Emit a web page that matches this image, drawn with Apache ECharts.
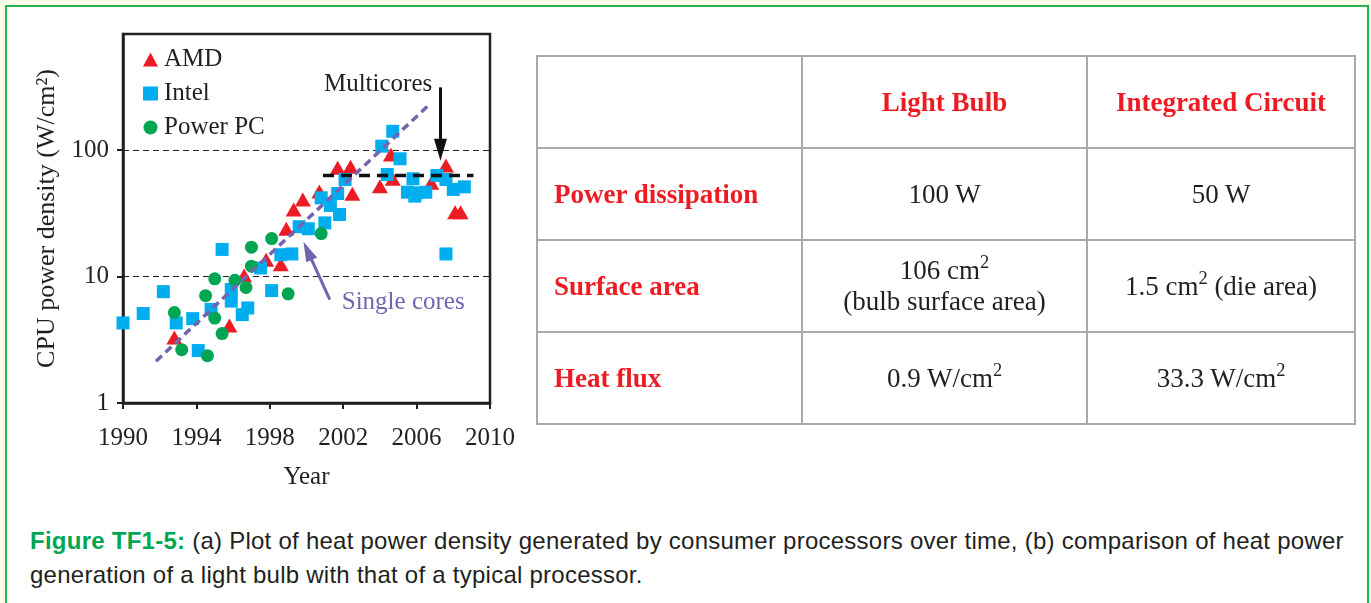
<!DOCTYPE html>
<html>
<head>
<meta charset="utf-8">
<script src="https://cdn.jsdelivr.net/npm/echarts@6/dist/echarts.min.js"></script>
<style>
  body { margin: 0; background: #fdfde8; width: 1371px; height: 603px; overflow: hidden; position: relative; }
  .frame { position: absolute; left: 5px; top: 5px; width: 1360px; height: 700px; border: 2px solid #2bb350; background: #fff; }
  #powerChart { position: absolute; left: 0; top: 0; width: 530px; height: 500px; }
  table.cmp { position: absolute; left: 529px; top: 48px; width: 818px; height: 368px; border-collapse: collapse;
    font-family: "Liberation Serif", "Times New Roman", serif; font-size: 27px; color: #231f20; table-layout: fixed; }
  table.cmp tr { height: 92px; }
  table.cmp td { border: 2px solid #a9a9a9; text-align: center; vertical-align: middle; padding: 0; line-height: 31px; }
  table.cmp td.hd { color: #ed1c24; font-weight: bold; }
  table.cmp td.lbl { color: #ed1c24; font-weight: bold; text-align: left; padding-left: 16px; }
  sup { font-size: 0.68em; line-height: 0; vertical-align: 0.6em; }
  .caption { position: absolute; left: 23px; top: 517px; font-family: "Liberation Sans", Arial, sans-serif; font-size: 24px;
    letter-spacing: 0.25px; line-height: 34px; color: #231f20; white-space: nowrap; }
  .caption b { color: #00a651; }
</style>
</head>
<body>
<div class="frame">
  <div id="powerChart"></div>
  <table class="cmp" id="cmpTable"></table>
  <div class="caption"><b>Figure TF1-5:</b> (a) Plot of heat power density generated by consumer processors over time, (b) comparison of heat power<br>generation of a light bulb with that of a typical processor.</div>
</div>
<script>
// 散点数据 [year, W/cm2]
var amd = [[1992.8, 3.3], [1995.8, 4.1], [1996.6, 10.2], [1997.8, 13.6], [1998.6, 12.5], [1998.9, 23.9],
  [1999.3, 33.9], [1999.8, 40.7], [2000.7, 47.1], [2001.7, 72.6], [2002.4, 73.9], [2002.5, 45.2],
  [2004.0, 51.9], [2004.6, 92.5], [2004.7, 59.4], [2006.8, 55.2], [2007.6, 75.7], [2008.1, 32.3], [2008.4, 32.3]]
var intel = [[1990.0, 4.3], [1991.1, 5.1], [1992.2, 7.6], [1992.9, 4.3], [1993.8, 4.65], [1994.1, 2.6],
  [1994.8, 5.5], [1995.4, 16.4], [1995.9, 7.9], [1995.9, 6.4], [1996.5, 5.0], [1996.8, 5.65],
  [1997.5, 11.7], [1998.1, 7.75], [1998.6, 14.9], [1999.2, 15.1], [1999.6, 24.8], [2000.1, 23.9],
  [2000.8, 42], [2001.0, 26.6], [2001.3, 36.5], [2001.7, 45.4], [2001.8, 31], [2002.1, 58.6],
  [2004.1, 107.6], [2004.4, 64.2], [2004.7, 141], [2005.1, 85.5], [2005.5, 46.5], [2005.8, 59.4],
  [2005.9, 43.3], [2006.0, 46], [2006.5, 46.5], [2007.1, 63], [2007.6, 58.6], [2007.6, 15.1],
  [2008.0, 48.9], [2008.6, 51.3]]
var powerPC = [[1992.8, 5.2], [1993.2, 2.64], [1994.5, 7.07], [1994.6, 2.37], [1995.0, 9.6], [1995.0, 4.7],
  [1995.4, 3.54], [1996.1, 9.35], [1996.7, 8.2], [1997.0, 17.1], [1997.0, 12.1], [1998.1, 20],
  [1999.0, 7.3], [2000.8, 21.9]]
var singleTrend = [[1991.8, 2.14], [2006.7, 230]]
var multiLevel = [[2000.9, 63], [2009.1, 63]]
var multiArrow = [[2007.3, 314], [2007.3, 101]]
var singleArrow = [[2001.27, 6.58], [2000.06, 16.0]]
var xTicks = [1990, 1994, 1998, 2002, 2006, 2010]
var yTicks = [1, 10, 100]

// 表格
var colHeaders = ['', 'Light Bulb', 'Integrated Circuit']
var rowLabels = ['Power dissipation', 'Surface area', 'Heat flux']
var bulbValues = ['100 W', '106 cm<sup>2</sup><br>(bulb surface area)', '0.9 W/cm<sup>2</sup>']
var chipValues = ['50 W', '1.5 cm<sup>2</sup> (die area)', '33.3 W/cm<sup>2</sup>']

var html = '<colgroup><col style="width:265px"><col style="width:285px"><col style="width:268px"></colgroup>'
html += '<tr>' + colHeaders.map(function (h) { return '<td class="hd">' + h + '</td>' }).join('') + '</tr>'
rowLabels.forEach(function (r, i) {
  html += '<tr><td class="lbl">' + r + '</td><td>' + bulbValues[i] + '</td><td>' + chipValues[i] + '</td></tr>'
})
document.getElementById('cmpTable').innerHTML = html

var serif = '"Liberation Serif", "Times New Roman", serif'
var ink = '#231f20'
var chart = echarts.init(document.getElementById('powerChart'))
chart.setOption({
  animation: false,
  textStyle: { fontFamily: serif, color: ink },
  grid: { left: 116, top: 27, width: 367, height: 369, show: true, borderColor: ink, borderWidth: 2.5 },
  legend: {
    orient: 'vertical', left: 131, top: 35, itemGap: 9, itemWidth: 15, itemHeight: 14,
    data: ['AMD', 'Intel', 'Power PC'],
    textStyle: { fontFamily: serif, fontSize: 25, color: ink, padding: [0, 0, 0, 1] }
  },
  xAxis: {
    type: 'value', min: 1990, max: 2010,
    name: 'Year', nameLocation: 'middle', nameGap: 62,
    nameTextStyle: { fontFamily: serif, fontSize: 25, color: ink },
    axisLine: { show: true, lineStyle: { color: ink, width: 2.5 } },
    axisTick: { show: true, length: 6, customValues: xTicks, lineStyle: { color: ink, width: 2 } },
    axisLabel: { customValues: xTicks, margin: 23, fontFamily: serif, fontSize: 25, color: ink,
      formatter: function (v) { return String(v) } },
    splitLine: { show: false }
  },
  yAxis: {
    type: 'log', logBase: 10, min: 1, max: 830,
    name: 'CPU power density (W/cm²)', nameLocation: 'middle', nameGap: 60,
    nameTextStyle: { fontFamily: serif, fontSize: 26, color: ink },
    axisLine: { show: true, lineStyle: { color: ink, width: 2.5 } },
    axisTick: { show: true, length: 6, customValues: yTicks, lineStyle: { color: ink, width: 2 } },
    axisLabel: { customValues: yTicks, margin: 14, fontFamily: serif, fontSize: 25, color: ink },
    splitLine: { show: true, lineStyle: { color: ink, width: 1.2, type: [6, 4] } }
  },
  series: [
    {
      name: 'Single trend', type: 'line', data: singleTrend, symbol: 'none', silent: true,
      lineStyle: { color: '#7464b0', width: 3.5, type: [8, 5] },
      markLine: {
        silent: true, symbol: ['none', 'triangle'], symbolSize: [12, 20],
        label: { show: false },
        lineStyle: { color: '#7464b0', width: 3, type: 'solid' },
        data: [[{ coord: singleArrow[0] }, { coord: singleArrow[1] }]]
      },
      markPoint: {
        silent: true, symbolSize: 0,
        label: { show: true, position: 'inside', formatter: 'Single cores', fontFamily: serif, fontSize: 25, color: '#7464b0' },
        data: [{ coord: [2005.27, 6.24] }]
      }
    },
    {
      name: 'Multicore level', type: 'line', data: multiLevel, symbol: 'none', silent: true,
      lineStyle: { color: '#111', width: 3.5, type: [11, 7] },
      markLine: {
        silent: true, symbol: ['none', 'triangle'], symbolSize: [13, 22],
        label: { show: false },
        lineStyle: { color: '#111', width: 3, type: 'solid' },
        data: [[{ coord: multiArrow[0] }, { coord: multiArrow[1] }]]
      },
      markPoint: {
        silent: true, symbolSize: 0,
        label: { show: true, position: 'inside', formatter: 'Multicores', fontFamily: serif, fontSize: 25, color: ink },
        data: [{ coord: [2003.9, 331] }]
      }
    },
    { name: 'AMD', type: 'scatter', data: amd, symbol: 'triangle', symbolSize: [16, 14], itemStyle: { color: '#ed1c24', opacity: 1 } },
    { name: 'Intel', type: 'scatter', data: intel, symbol: 'rect', symbolSize: 13, itemStyle: { color: '#00aeef', opacity: 1 } },
    { name: 'Power PC', type: 'scatter', data: powerPC, symbol: 'circle', symbolSize: 13, itemStyle: { color: '#00a651', opacity: 1 } }
  ]
})
</script>
</body>
</html>
